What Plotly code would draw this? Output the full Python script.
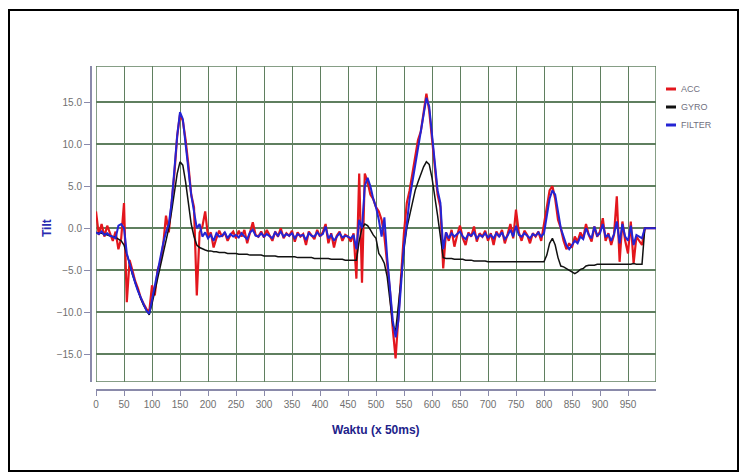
import plotly.graph_objects as go

# ---------------- data ----------------
t = list(range(0, 985, 5)) + [1000]

acc = [
    2.0, -0.8, 0.5, -1.0, 0.3, -0.6, -1.5, -0.4, -2.5, -1.2,
    3.0, -8.8, -3.8, -5.0, -6.3, -7.2, -8.3, -9.0, -9.6, -10.0,
    -6.8, -8.0, -5.0, -4.0, -2.0, 1.5, -0.5, 3.0, 6.5, 11.0,
    13.5, 12.8, 10.5, 7.5, 4.0, 2.5, -8.0, -0.5, 0.2, 2.0,
    -1.0, -0.5, -2.3, -1.2, -0.3, -1.0, -0.5, -1.5, -0.8, -0.4,
    -1.2, -0.3, -1.0, -0.2, -1.8, -0.5, 0.7, -0.8, -1.0, -0.4,
    -1.1, -0.2, -0.8, -1.5, -0.4, -1.0, 0.0, -1.2, -0.6, -0.9,
    -0.3, -1.6, -0.5, -1.0, -0.7, -2.0, -0.4, -0.8, -1.3, -0.2,
    -1.0, -0.5, 0.5, -1.8, -0.6, -2.3, -0.9, -0.4, -1.5, -0.8,
    -1.0, -1.6, -0.6, -6.0, 6.5, -6.5, 6.5, 5.5, 4.0, 3.5,
    2.5, 2.0, 1.0, -1.0, -4.0, -7.5, -12.0, -15.5, -10.5, -5.0,
    -0.5, 3.0, 4.5, 6.5, 8.5, 10.5, 11.5, 14.0, 16.0, 14.0,
    10.5, 7.0, 4.0, 2.5, -4.8, -0.5, -1.5, -0.2, -2.2, -0.8,
    0.3, -1.2, -2.0, -0.5, -1.0, 0.2, -1.6, -0.6, -1.0, -0.3,
    -1.5, -0.6, -2.0, -0.4, -1.0, -0.2, -1.8, -0.7, 0.5, -1.2,
    2.2, -0.5, -1.5, -0.3, -0.8, -1.8, -0.6, -1.0, -0.4, -1.5,
    0.5, 3.0, 4.5, 5.0, 3.5, 1.0, 0.0, -1.5, -2.5, -1.8,
    -2.3, -1.0, -1.6, -0.5, -1.2, 0.5, -0.8, -1.6, 0.2, -1.0,
    -0.4, 1.2, -1.5, -0.6, -2.0, -0.8, 3.8, -4.0, 0.8, -1.5,
    -3.0, 0.8, -4.2, -1.0, -1.5, -2.0, 0.0,
    0.0,
]

gyro = [
    -0.5, -0.6, -0.6, -0.7, -0.8, -0.9, -1.0, -1.1, -1.3, -1.5,
    -2.0, -3.0, -4.2, -5.5, -6.5, -7.5, -8.4, -9.2, -9.8, -10.3,
    -9.0, -7.5, -6.0, -4.5, -3.0, -1.5, 0.0, 2.0, 4.5, 6.5,
    7.9, 7.5, 5.5, 3.0, 0.5, -1.0, -2.0, -2.3, -2.5, -2.6,
    -2.7, -2.7, -2.8, -2.8, -2.9, -2.9, -2.9, -3.0, -3.0, -3.0,
    -3.0, -3.1, -3.1, -3.1, -3.1, -3.2, -3.2, -3.2, -3.2, -3.2,
    -3.3, -3.3, -3.3, -3.3, -3.3, -3.4, -3.4, -3.4, -3.4, -3.4,
    -3.4, -3.4, -3.5, -3.5, -3.5, -3.5, -3.5, -3.5, -3.6, -3.6,
    -3.6, -3.6, -3.6, -3.6, -3.7, -3.7, -3.7, -3.7, -3.7, -3.8,
    -3.8, -3.8, -3.8, -3.8, -1.5, 0.0, 0.5, 0.3, -0.2, -0.8,
    -1.2, -3.0, -3.5, -4.2, -5.8, -8.5, -11.5, -12.3, -9.5, -6.0,
    -2.5, 0.0, 1.5, 3.0, 4.5, 5.5, 6.5, 7.3, 7.9, 7.6,
    6.0, 4.0, 1.5, -1.0, -3.5, -3.6, -3.6, -3.6, -3.7, -3.7,
    -3.7, -3.7, -3.8, -3.8, -3.8, -3.9, -3.9, -3.9, -3.9, -3.9,
    -4.0, -4.0, -4.0, -4.0, -4.0, -4.0, -4.0, -4.0, -4.0, -4.0,
    -4.0, -4.0, -4.0, -4.0, -4.0, -4.0, -4.0, -4.0, -4.0, -4.0,
    -4.0, -3.2, -1.8, -1.2, -2.0, -3.5, -4.5, -4.6, -4.8, -5.0,
    -5.3, -5.4, -5.2, -4.9, -4.8, -4.5, -4.4, -4.4, -4.4, -4.3,
    -4.3, -4.3, -4.3, -4.3, -4.3, -4.3, -4.3, -4.3, -4.3, -4.3,
    -4.3, -4.3, -4.2, -4.3, -4.3, -4.3, 0.0,
    0.0,
]

filt = [
    -0.5, -0.7, -0.4, -0.8, -0.6, -0.9, -1.0, -1.2, 0.3, 0.5,
    0.0, -3.0, -4.2, -5.5, -6.5, -7.5, -8.3, -9.0, -9.8, -10.2,
    -8.5, -7.0, -5.5, -3.5, -1.8, -0.5, 0.5, 3.0, 7.0, 11.0,
    13.8, 13.0, 10.0, 7.0, 4.0, 2.0, 0.0, 0.5, -1.0, -0.5,
    -1.2, -0.8, -1.5, -0.6, -1.0, -0.9, -0.5, -1.2, -0.7, -1.0,
    -0.8, -1.1, -0.6, -1.0, -1.3, -0.5, -0.2, -0.9, -1.0, -0.6,
    -1.0, -0.7, -0.9, -1.2, -0.5, -0.9, -0.4, -1.0, -0.7, -0.9,
    -0.6, -1.2, -0.7, -0.9, -0.8, -1.4, -0.6, -0.9, -1.0, -0.5,
    -0.9, -0.7, 0.2, -1.2, -0.8, -1.5, -1.0, -0.6, -1.1, -0.9,
    -1.0, -1.2, -0.8, -2.5, 1.0, 0.0, 5.0, 6.0, 5.0, 3.5,
    2.5, 1.0, -1.0, 1.3, -3.5, -7.0, -11.0, -13.0, -11.0, -6.5,
    -2.0, 0.5, 3.5, 5.5, 7.5, 9.5, 11.0, 13.0, 15.5, 14.5,
    11.0, 7.5, 4.5, 3.0, -2.5, -0.5, -1.2, -0.6, -1.0, -0.7,
    -0.4, -1.0, -1.3, -0.7, -0.9, -0.5, -1.2, -0.8, -1.0, -0.6,
    -1.1, -0.8, -1.2, -0.6, -1.0, -0.5, -1.3, -0.9, -0.2, -1.0,
    0.3, -0.8, -1.0, -0.6, -0.9, -1.2, -0.7, -0.9, -0.5, -1.0,
    -0.6, 1.5, 3.5, 4.5, 4.0, 2.0, 0.0, -1.0, -2.0, -2.5,
    -2.0, -1.5, -1.8, -1.0, -1.3, 0.0, -0.8, -1.2, 0.2, -0.9,
    -0.6, 0.5, -1.0, -0.8, -1.5, -0.7, 0.8, -1.8, 0.5, -1.0,
    -1.5, 0.3, -2.0, -0.8, -1.0, -1.2, 0.0,
    0.0,
]

series_names = ["ACC", "GYRO", "FILTER"]
series_colors = ["#e3161d", "#111111", "#2424d4"]
series_widths = [2.2, 1.5, 2.0]
series_values = [acc, gyro, filt]

x_ticks = list(range(0, 1000, 50))
y_ticks = [-15, -10, -5, 0, 5, 10, 15]

x_title = "Waktu (x 50ms)"
y_title = "Tilt"

# ---------------- figure ----------------
fig = go.Figure()
for name, vals, col, w in zip(series_names, series_values, series_colors, series_widths):
    fig.add_trace(go.Scatter(x=t, y=vals, mode="lines", name=name,
                             line=dict(color=col, width=w), showlegend=False))

GRID = "#5f7f5f"
AXC = "#8a8aaa"
YR = [-18.3, 19.3]
XR = [0, 1000]

# page body has an 8px margin, so the figure is 740x466 placed at (8,8)
fig.update_layout(
    width=740, height=466,
    margin=dict(l=83, r=92, t=58, b=84),
    paper_bgcolor="white", plot_bgcolor="white",
    font=dict(family="Liberation Sans Narrow, Liberation Sans, Arial, sans-serif",
              size=10, color="#707070"),
    xaxis=dict(range=XR, domain=[5 / 565, 1], anchor="free", position=0,
               tickvals=x_ticks, ticktext=[str(v) for v in x_ticks],
               showgrid=True, gridcolor=GRID, gridwidth=1,
               zeroline=False, showline=True, linecolor=AXC, linewidth=2,
               ticks="outside", ticklen=5, tickcolor=AXC, tickwidth=1,
               tickfont=dict(size=10, color="#707070")),
    yaxis=dict(range=YR, domain=[8 / 324, 1], anchor="free", position=0,
               tickvals=y_ticks, tickformat=".1f",
               showgrid=True, gridcolor=GRID, gridwidth=1.5,
               zeroline=False, showline=True, linecolor=AXC, linewidth=2,
               ticks="outside", ticklen=6, tickcolor=AXC, tickwidth=1,
               tickfont=dict(size=10, color="#707070")),
    showlegend=False,
)

shapes = []
# plot-area frame
shapes.append(dict(type="rect", xref="x", yref="y", x0=XR[0], x1=XR[1], y0=YR[0], y1=YR[1],
                   line=dict(color=GRID, width=1.5), layer="below"))

# paper coords: 0..1 -> screen px 91..656 / 390..66
def px_x(p):
    return (p - 91) / 565
def px_y(p):
    return (390 - p) / 324

# outer black frame
shapes.append(dict(type="rect", xref="paper", yref="paper",
                   x0=px_x(9), x1=px_x(738), y0=px_y(471), y1=px_y(10),
                   line=dict(color="black", width=2)))

annotations = []
# manual legend
for i, (name, col) in enumerate(zip(series_names, series_colors)):
    ypx = 89 + 18 * i
    shapes.append(dict(type="line", xref="paper", yref="paper",
                       x0=px_x(666), x1=px_x(676), y0=px_y(ypx), y1=px_y(ypx),
                       line=dict(color=col, width=3)))
    annotations.append(dict(xref="paper", yref="paper", x=px_x(679), y=px_y(ypx),
                            text=name, showarrow=False, xanchor="left", yanchor="middle",
                            font=dict(size=9, color="#707080")))

annotations.append(dict(xref="paper", yref="paper", x=px_x(376), y=px_y(430),
                        text="<b>" + x_title + "</b>", showarrow=False,
                        xanchor="center", yanchor="middle",
                        font=dict(size=12, color="#22228a")))
annotations.append(dict(xref="paper", yref="paper", x=px_x(47), y=px_y(228),
                        text="<b>" + y_title + "</b>", showarrow=False, textangle=-90,
                        xanchor="center", yanchor="middle",
                        font=dict(size=12, color="#2a2ab0")))

fig.update_layout(shapes=shapes, annotations=annotations)
fig.write_html("out.html")
